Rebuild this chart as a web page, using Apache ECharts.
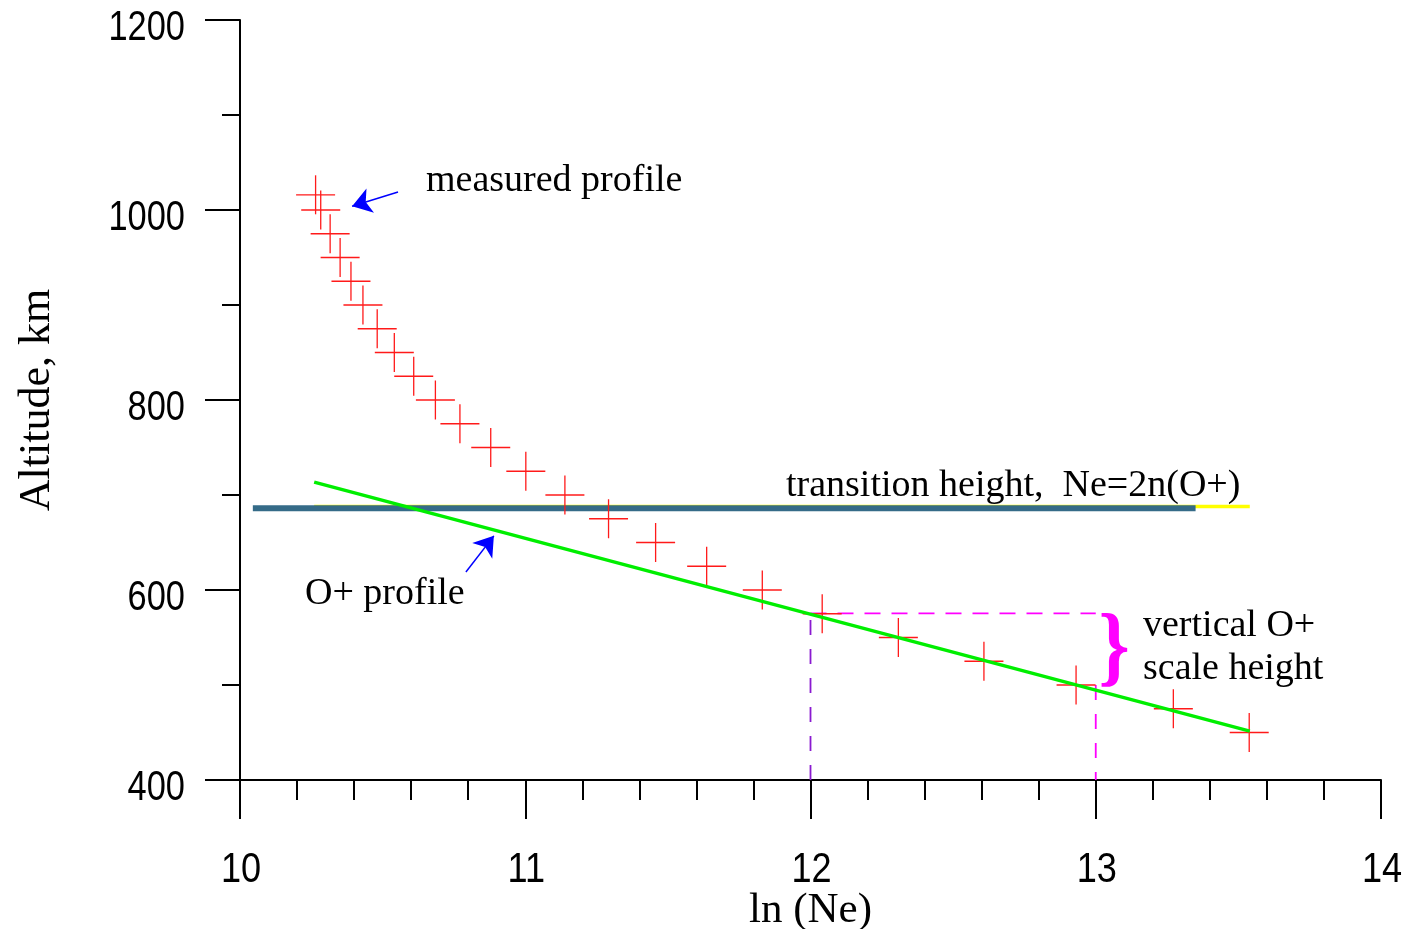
<!DOCTYPE html>
<html>
<head>
<meta charset="utf-8">
<script src="https://cdn.jsdelivr.net/npm/echarts@6/dist/echarts.min.js"></script>
<style>
  html, body { margin: 0; padding: 0; background: #fff; }
  #chart { width: 1416px; height: 929px; }
</style>
</head>
<body>
<div id="chart"></div>
<script>
// measured profile (crosses)
var measuredLnNe = [10.265, 10.283, 10.316, 10.351, 10.389, 10.431, 10.481, 10.541,
  10.609, 10.685, 10.771, 10.879, 11.002, 11.139, 11.292, 11.457, 11.636, 11.831,
  12.041, 12.308, 12.608, 12.931, 13.272, 13.538];
var measuredAlt = [1016, 1000, 975, 950, 925, 900, 875, 850, 825, 800, 775, 750,
  725, 700, 675, 650, 625, 600, 575, 550, 525, 500, 475, 450];

// fitted O+ profile (straight line)
var oProfileLnNe = [10.26, 13.54];
var oProfileAlt = [713.5, 451.5];

// transition height line
var transitionLnNe = [10.045, 13.35];
var transitionAlt = [686, 686];
var transitionGlowLnNe = [10.26, 13.54];
var transitionGlowAlt = [688, 688];

// scale height construction (dashed)
var scaleLeftLnNe = [12, 12];
var scaleLeftAlt = [400, 575.5];
var scaleTopLnNe = [12, 13];
var scaleTopAlt = [575.5, 575.5];
var scaleRightLnNe = [13, 13];
var scaleRightAlt = [500, 400];

// annotation arrows [from, to]
var arrowMeasured = [[10.554, 1019], [10.393, 1004]];
var arrowOProfile = [[10.792, 619], [10.890, 657]];

var xTicks = [10, 11, 12, 13, 14];
var yTicks = [400, 600, 800, 1000, 1200];

function pairs(xs, ys) {
  var out = [];
  for (var i = 0; i < xs.length; i++) out.push([xs[i], ys[i]]);
  return out;
}

var chart = echarts.init(document.getElementById('chart'));
var serif = "'Liberation Serif', 'Times New Roman', serif";
var sans = "'Liberation Sans', Arial, sans-serif";

var plainLine = function (data, color, width, dash, z) {
  return {
    type: 'line',
    data: data,
    symbol: 'none',
    silent: true,
    z: z || 2,
    lineStyle: { color: color, width: width, type: dash || 'solid' }
  };
};

var option = {
  animation: false,
  backgroundColor: '#fff',
  grid: { left: 240, right: 35, top: 20, bottom: 149, outerBoundsMode: 'none', containLabel: false },
  xAxis: {
    type: 'value',
    min: xTicks[0],
    max: xTicks[xTicks.length - 1],
    interval: 1,
    name: 'ln (Ne)',
    nameLocation: 'middle',
    nameGap: 109,
    nameTextStyle: { fontFamily: serif, fontSize: 43, color: '#000' },
    axisLine: { lineStyle: { color: '#000', width: 2 } },
    axisTick: { length: 39, lineStyle: { color: '#000', width: 2 } },
    minorTick: { show: true, splitNumber: 5, length: 20, lineStyle: { color: '#000', width: 2 } },
    splitLine: { show: false },
    axisLabel: { show: false }
  },
  yAxis: {
    type: 'value',
    min: yTicks[0],
    max: yTicks[yTicks.length - 1],
    interval: 200,
    name: 'Altitude, km',
    nameLocation: 'middle',
    nameGap: 181,
    nameTextStyle: { fontFamily: serif, fontSize: 44, color: '#000' },
    axisLine: { lineStyle: { color: '#000', width: 2 } },
    axisTick: { length: 35, lineStyle: { color: '#000', width: 2 } },
    minorTick: { show: true, splitNumber: 2, length: 18, lineStyle: { color: '#000', width: 2 } },
    splitLine: { show: false },
    axisLabel: { show: false }
  },
  series: [
    plainLine(pairs(transitionGlowLnNe, transitionGlowAlt), '#ffff00', 3.5, 'solid', 2),
    plainLine(pairs(transitionLnNe, transitionAlt), '#356b88', 6, 'solid', 3),
    plainLine(pairs(scaleLeftLnNe, scaleLeftAlt), '#8a1ad0', 1.8, [15, 14], 2),
    plainLine(pairs(scaleTopLnNe, scaleTopAlt), '#ff00ff', 1.8, [16, 11], 2),
    plainLine(pairs(scaleRightLnNe, scaleRightAlt), '#ff00ff', 1.8, [15, 14], 2),
    {
      type: 'custom',
      silent: true,
      z: 4,
      data: pairs(measuredLnNe, measuredAlt),
      renderItem: function (params, api) {
        var p = api.coord([api.value(0), api.value(1)]);
        var h = 19.5;
        var st = { stroke: '#ff1a1a', lineWidth: 1.3 };
        return {
          type: 'group',
          children: [
            { type: 'line', shape: { x1: p[0] - h, y1: p[1], x2: p[0] + h, y2: p[1] }, style: st },
            { type: 'line', shape: { x1: p[0], y1: p[1] - h, x2: p[0], y2: p[1] + h }, style: st }
          ]
        };
      }
    },
    plainLine(pairs(oProfileLnNe, oProfileAlt), '#00ee00', 3.5, 'solid', 5),
    {
      type: 'lines',
      coordinateSystem: 'cartesian2d',
      silent: true,
      z: 6,
      symbol: ['none', 'arrow'],
      symbolSize: [15, 19],
      lineStyle: { color: '#0000ff', width: 1.5, opacity: 1 },
      data: [{ coords: arrowMeasured }, { coords: arrowOProfile }]
    }
  ]
};
chart.setOption(option);

// tick labels in a condensed look, placed through the axis scales
var graphics = [];
yTicks.forEach(function (v) {
  var p = chart.convertToPixel({ gridIndex: 0 }, [xTicks[0], v]);
  graphics.push({
    type: 'text', x: p[0] - 55, y: p[1] + 8, scaleX: 0.8,
    style: { text: String(v), font: '43px ' + sans, fill: '#000', align: 'right', verticalAlign: 'middle' }
  });
});
xTicks.forEach(function (v) {
  var p = chart.convertToPixel({ gridIndex: 0 }, [v, yTicks[0]]);
  graphics.push({
    type: 'text', x: p[0] + 1, y: p[1] + 90, scaleX: 0.84,
    style: { text: String(v), font: '43px ' + sans, fill: '#000', align: 'center', verticalAlign: 'middle' }
  });
});

graphics.push(
  { type: 'text', left: 426, top: 162, style: { text: 'measured profile', font: '38px ' + serif, fill: '#000' } },
  { type: 'text', left: 786, top: 467, style: { text: 'transition height,  Ne=2n(O+)', font: '38px ' + serif, fill: '#000' } },
  { type: 'text', left: 305, top: 575, style: { text: 'O+ profile', font: '38px ' + serif, fill: '#000' } },
  { type: 'text', left: 1143, top: 607, style: { text: 'vertical O+', font: '38px ' + serif, fill: '#000' } },
  { type: 'text', left: 1143, top: 650, style: { text: 'scale height', font: '38px ' + serif, fill: '#000' } },
  {
    type: 'text', x: 1114, y: 652, scaleX: 0.9,
    style: { text: '}', font: 'bold 88px ' + serif, fill: '#ff00ff', align: 'center', verticalAlign: 'middle' }
  }
);
chart.setOption({ graphic: graphics });
</script>
</body>
</html>
